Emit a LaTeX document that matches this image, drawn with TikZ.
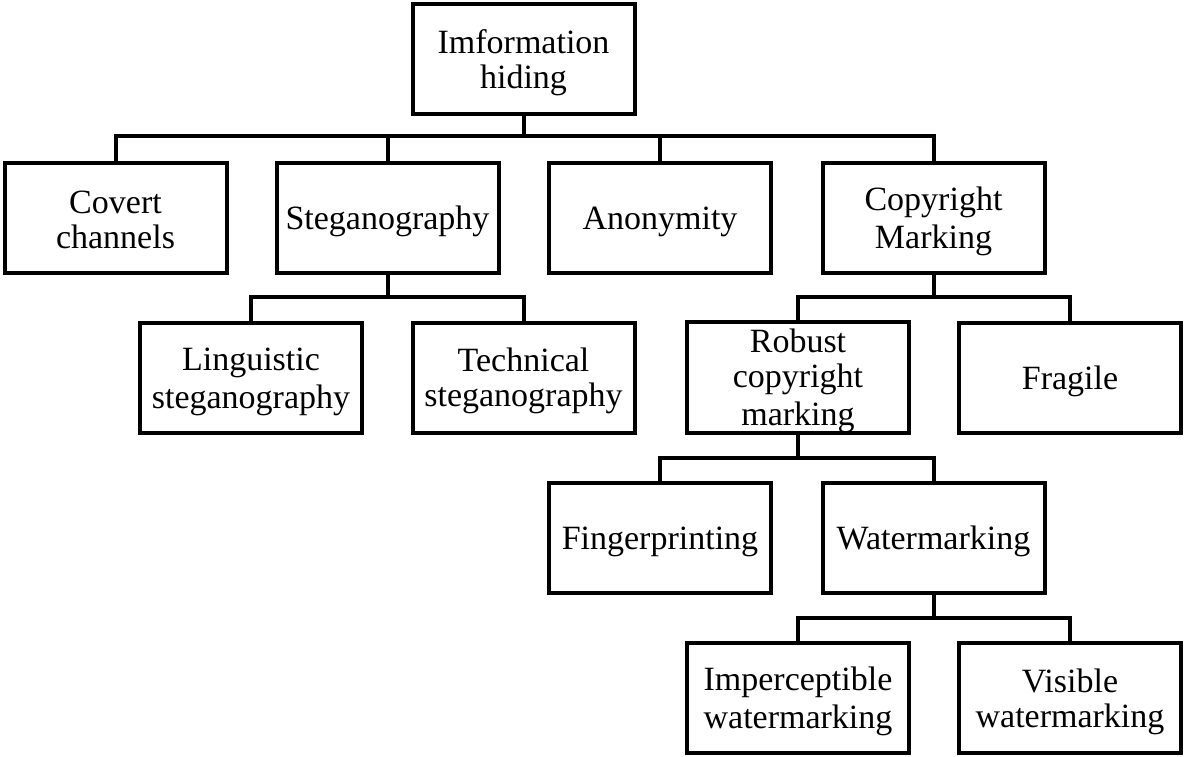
\documentclass[tikz,border=0pt]{standalone}
\usepackage{fontspec}
\usepackage{array}
\setmainfont{Liberation Serif}
\newcommand\bt[1]{{\renewcommand\arraystretch{0}\begin{tabular}{@{}>{\rule[-4.5pt]{0pt}{35pt}}c@{}}#1\end{tabular}}}
\begin{document}
\begin{tikzpicture}[x=1pt,y=-1pt,
  box/.style={draw,line width=4pt,minimum width=222pt,minimum height=110pt,inner sep=0pt,
    font=\fontsize{34}{35}\selectfont},
  conn/.style={line width=4pt}]
\useasboundingbox (0,0) rectangle (1185,757);
\node[box] (root) at (523.5,59) {\bt{Imformation\\hiding}};
\node[box] (cc) at (115.5,217.5) {\bt{Covert\\channels}};
\node[box] (st) at (387.5,217.5) {\bt{Steganography}};
\node[box] (an) at (660,217.5) {\bt{Anonymity}};
\node[box] (cm) at (933.5,217.5) {\bt{Copyright\\Marking}};
\node[box] (li) at (251,377.5) {\bt{Linguistic\\steganography}};
\node[box] (te) at (523.5,377.5) {\bt{Technical\\steganography}};
\node[box] (ro) at (798,377.5) {\bt{Robust\\copyright\\marking}};
\node[box] (fr) at (1070,377.5) {\bt{Fragile}};
\node[box] (fi) at (660,538) {\bt{Fingerprinting}};
\node[box] (wa) at (933.5,538) {\bt{Watermarking}};
\node[box] (im) at (798,698) {\bt{Imperceptible\\watermarking}};
\node[box] (vi) at (1070,698) {\bt{Visible\\watermarking}};
\coordinate (b1) at (523.5,136);
\coordinate (b2) at (387.5,297);
\coordinate (b3) at (933.5,297);
\coordinate (b4) at (798,458);
\coordinate (b5) at (933.5,618);
\draw[conn] (root.south) -- (b1);
\draw[conn] (cc.north) -- (cc.north|-b1) -- (cm.north|-b1) -- (cm.north);
\draw[conn] (st.north) -- (st.north|-b1);
\draw[conn] (an.north) -- (an.north|-b1);
\draw[conn] (st.south) -- (b2);
\draw[conn] (li.north) -- (li.north|-b2) -- (te.north|-b2) -- (te.north);
\draw[conn] (cm.south) -- (b3);
\draw[conn] (ro.north) -- (ro.north|-b3) -- (fr.north|-b3) -- (fr.north);
\draw[conn] (ro.south) -- (b4);
\draw[conn] (fi.north) -- (fi.north|-b4) -- (wa.north|-b4) -- (wa.north);
\draw[conn] (wa.south) -- (b5);
\draw[conn] (im.north) -- (im.north|-b5) -- (vi.north|-b5) -- (vi.north);
\end{tikzpicture}
\end{document}
